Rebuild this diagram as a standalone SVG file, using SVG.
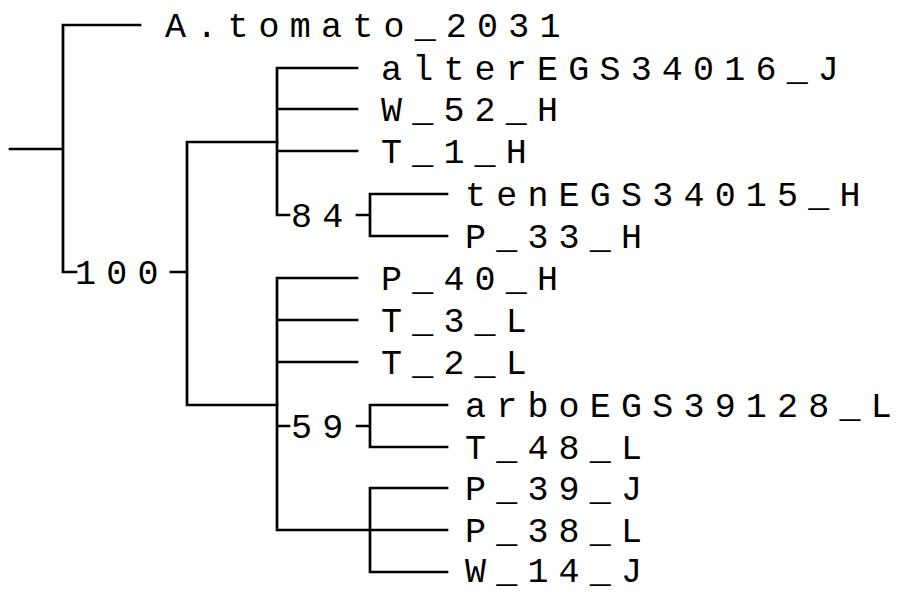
<svg xmlns="http://www.w3.org/2000/svg" width="905" height="592" viewBox="0 0 905 592">
<style>
.b{stroke:#000;stroke-width:2.7;fill:none;stroke-linecap:square}
text{font-family:"Liberation Mono","DejaVu Sans Mono",monospace;font-size:35px;letter-spacing:10.2px;fill:#000}
</style>
<rect width="905" height="592" fill="#fff"/>
<g id="connectors" class="b">
<path d="M10,149H63M63,25V272M63,25H140M63,272H76"/>
<path d="M171,272H187M187,142V405M187,142H277M187,405H277"/>
<path d="M277,68V215M277,68H357M277,109H357M277,151H357M277,215H289M357,215H370M370,194V236M370,194H447M370,236H447"/>
<path d="M277,278V530M277,278H357M277,320H357M277,362H357M277,426H289M357,426H370M370,405V447M370,405H447M370,447H447M277,530H447M370,488V572M370,488H447M370,572H447"/>
</g>
<g id="n_atomato"><text x="165" y="37">A.tomato_2031</text></g>
<g id="n_alter"><text x="381" y="80">alterEGS34016_J</text></g>
<g id="n_w52"><text x="381" y="121">W_52_H</text></g>
<g id="n_t1"><text x="381" y="163">T_1_H</text></g>
<g id="n_ten"><text x="465" y="206">tenEGS34015_H</text></g>
<g id="n_p33"><text x="465" y="248">P_33_H</text></g>
<g id="n_p40"><text x="381" y="290">P_40_H</text></g>
<g id="n_t3"><text x="381" y="332">T_3_L</text></g>
<g id="n_t2"><text x="381" y="374">T_2_L</text></g>
<g id="n_arbo"><text x="465" y="417">arboEGS39128_L</text></g>
<g id="n_t48"><text x="465" y="459">T_48_L</text></g>
<g id="n_p39"><text x="465" y="500">P_39_J</text></g>
<g id="n_p38"><text x="465" y="542">P_38_L</text></g>
<g id="n_w14"><text x="465" y="582">W_14_J</text></g>
<g id="node100"><text x="75" y="284">100</text></g>
<g id="node84"><text x="291" y="227">84</text></g>
<g id="node59"><text x="291" y="438">59</text></g>
</svg>
